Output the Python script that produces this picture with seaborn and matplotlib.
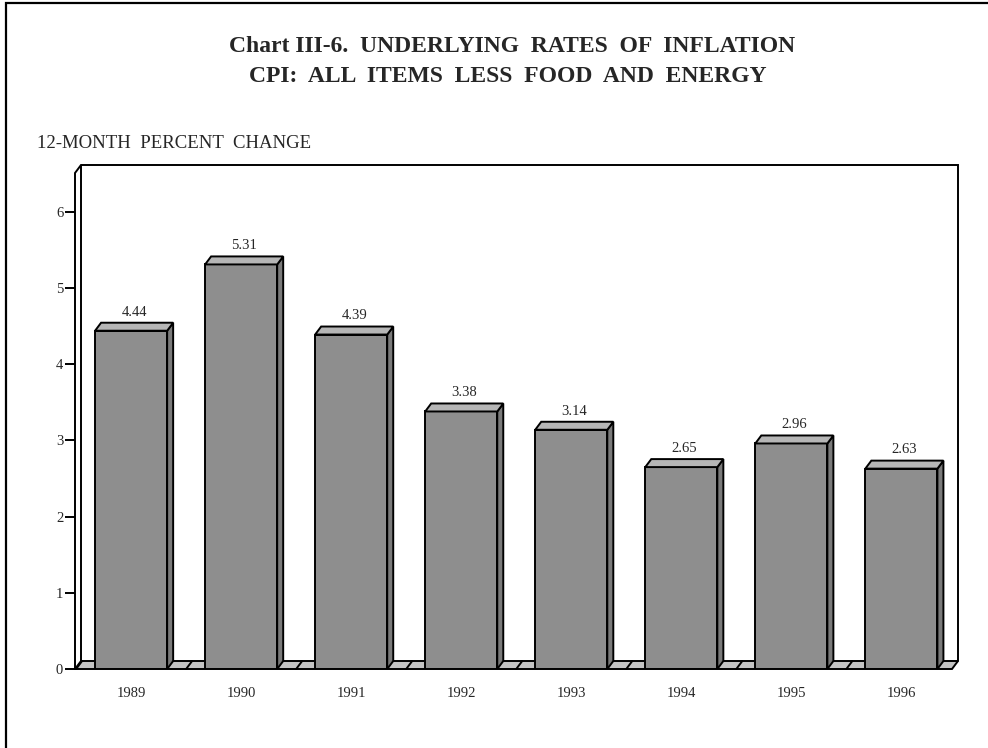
import matplotlib
matplotlib.use("Agg")
import matplotlib.pyplot as plt
from matplotlib.patches import Polygon
from matplotlib.lines import Line2D
import seaborn as sns
import pandas as pd
import numpy as np

years = ["1989", "1990", "1991", "1992", "1993", "1994", "1995", "1996"]
values = [4.44, 5.31, 4.39, 3.38, 3.14, 2.65, 2.96, 2.63]
yticks = [0, 1, 2, 3, 4, 5, 6]
title_lines = ["Chart III-6.  UNDERLYING  RATES  OF  INFLATION",
               "CPI:  ALL  ITEMS  LESS  FOOD  AND  ENERGY"]
ylabel = "12-MONTH  PERCENT  CHANGE"

sns.set_style("white")
plt.rcParams["font.family"] = ["Liberation Serif", "DejaVu Serif"]

W, H = 988, 748
fig = plt.figure(figsize=(W / 100, H / 100), dpi=100)
ax_left, ax_right, ax_bottom, ax_top = 75, 952, 669, 173
ax = fig.add_axes([ax_left / W, (H - ax_bottom) / H,
                   (ax_right - ax_left) / W, (ax_bottom - ax_top) / H])

df = pd.DataFrame({"year": years, "value": values})
XLO, XHI = -0.51, 7.46
YTOP = 6.51

sns.barplot(data=df, x="year", y="value", color="#8e8e8e", saturation=1,
            width=0.655, edgecolor="black", linewidth=1.4, ax=ax, zorder=3)
ax.set_xlim(XLO, XHI)
ax.set_ylim(0, YTOP)

# depth in data units (6 px right, 8 px up)
DPX, DPY = 6, 8
ddx = DPX * (XHI - XLO) / (ax_right - ax_left)
ddy = DPY * YTOP / (ax_bottom - ax_top)

lw = 1.4
bars = list(ax.patches)

# floor
floor = Polygon([(XLO, 0), (XHI, 0), (XHI + ddx, ddy), (XLO + ddx, ddy)],
                closed=True, facecolor="#c4c4c4", edgecolor="black",
                linewidth=lw, zorder=1, clip_on=False)
ax.add_patch(floor)
for b in np.arange(-0.5, len(years) + 0.5, 1.0):
    if XLO <= b <= XHI:
        ax.add_line(Line2D([b, b + ddx], [0, ddy], color="black", lw=lw,
                           zorder=1.5, clip_on=False))

# walls
wall_kw = dict(color="black", lw=lw, zorder=2, clip_on=False,
               solid_joinstyle="miter")
ax.add_line(Line2D([XLO, XLO, XLO + ddx, XLO + ddx],
                   [0, YTOP, YTOP + ddy, ddy], **wall_kw))
ax.add_line(Line2D([XLO + ddx, XHI + ddx, XHI + ddx],
                   [YTOP + ddy, YTOP + ddy, ddy], **wall_kw))

# 3D tops and sides for the bars
for p in bars:
    x0 = p.get_x()
    w = p.get_width()
    h = p.get_height()
    x1 = x0 + w
    top = Polygon([(x0, h), (x1, h), (x1 + ddx, h + ddy), (x0 + ddx, h + ddy)],
                  closed=True, facecolor="#b6b6b6", edgecolor="black",
                  linewidth=lw, zorder=3.5, joinstyle="miter")
    side = Polygon([(x1, 0), (x1 + ddx, ddy), (x1 + ddx, h + ddy), (x1, h)],
                   closed=True, facecolor="#7a7a7a", edgecolor="black",
                   linewidth=lw, zorder=3.5, joinstyle="miter")
    ax.add_patch(side)
    ax.add_patch(top)

# value labels
for i, v in enumerate(values):
    ax.annotate(f"{v:.2f}", xy=(i + ddx / 2, v + ddy), xytext=(0, 3),
                textcoords="offset points", ha="center", va="bottom",
                fontsize=10.5, zorder=5)

for s in ax.spines.values():
    s.set_visible(False)
ax.set_xlabel("")
ax.set_ylabel("")
ax.set_yticks(yticks)
ax.set_yticklabels([str(t) for t in yticks])
ax.tick_params(axis="y", left=True, length=7.5, width=1.4, pad=1,
               labelsize=10.5, color="black", direction="out")
ax.tick_params(axis="x", bottom=False, length=0, pad=13, labelsize=10.5)
ax.patch.set_alpha(0)

# titles
fig.text(512 / W, 1 - 47 / H, title_lines[0], ha="center", va="center",
         fontsize=17, fontweight="bold")
fig.text(508 / W, 1 - 77 / H, title_lines[1], ha="center", va="center",
         fontsize=17, fontweight="bold")
fig.text(37 / W, 1 - 143 / H, ylabel, ha="left", va="center", fontsize=13.5)

# page border (left and top)
fig.add_artist(Line2D([5.5 / W, 5.5 / W, 1.0], [0, 1 - 3 / H, 1 - 3 / H],
                      transform=fig.transFigure, color="black", lw=1.6,
                      solid_joinstyle="miter"))

fig.savefig("out.png", dpi=100)
